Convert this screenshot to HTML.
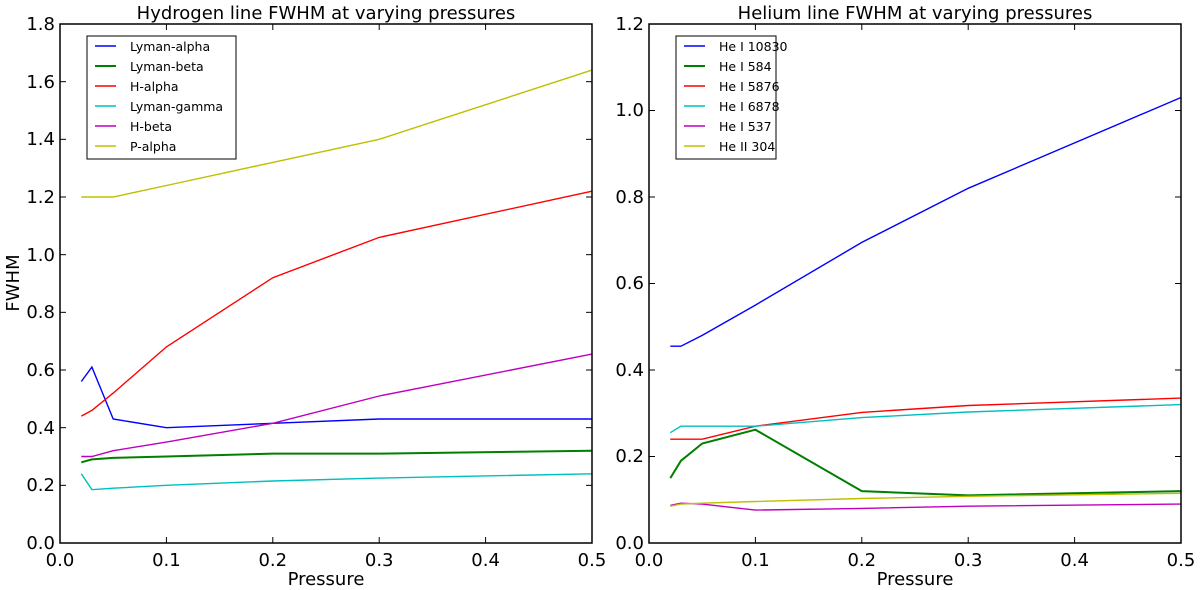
<!DOCTYPE html>
<html><head><style>body{margin:0;background:#fff}svg{display:block;font-family:"DejaVu Sans","Liberation Sans",sans-serif}</style></head>
<body>
<svg id="s" width="1200" height="590" viewBox="0 0 1200 590">
<rect width="1200" height="590" fill="#fff"/>
<g font-size="18" fill="#000">
<text x="326" y="19" text-anchor="middle">Hydrogen line FWHM at varying pressures</text>
<text x="915" y="19" text-anchor="middle">Helium line FWHM at varying pressures</text>
<text x="326" y="585" text-anchor="middle">Pressure</text>
<text x="915" y="585" text-anchor="middle">Pressure</text>
<text transform="translate(19,283) rotate(-90)" text-anchor="middle">FWHM</text>
<g text-anchor="middle">
<text x="60" y="566">0.0</text><text x="166.4" y="566">0.1</text><text x="272.8" y="566">0.2</text><text x="379.2" y="566">0.3</text><text x="485.6" y="566">0.4</text><text x="592" y="566">0.5</text>
<text x="649" y="566">0.0</text><text x="755.4" y="566">0.1</text><text x="861.8" y="566">0.2</text><text x="968.2" y="566">0.3</text><text x="1074.6" y="566">0.4</text><text x="1181" y="566">0.5</text>
</g>
<g text-anchor="end">
<text x="55" y="549">0.0</text><text x="55" y="491">0.2</text><text x="55" y="434">0.4</text><text x="55" y="376">0.6</text><text x="55" y="318">0.8</text><text x="55" y="261">1.0</text><text x="55" y="203">1.2</text><text x="55" y="145">1.4</text><text x="55" y="88">1.6</text><text x="55" y="30">1.8</text>
<text x="644" y="549">0.0</text><text x="644" y="462">0.2</text><text x="644" y="376">0.4</text><text x="644" y="289">0.6</text><text x="644" y="203">0.8</text><text x="644" y="116">1.0</text><text x="644" y="30">1.2</text>
</g>
</g>
<g id="plots"></g>
<rect x="60" y="24" width="532" height="519" fill="none" stroke="#000" stroke-width="1.5"/>
<rect x="649" y="24" width="532" height="519" fill="none" stroke="#000" stroke-width="1.5"/>
<g font-size="12.5" fill="#000">
<rect x="87" y="36" width="149" height="123" fill="#fff" stroke="#000" stroke-width="1"/>
<text x="130" y="51">Lyman-alpha</text><text x="130" y="71">Lyman-beta</text><text x="130" y="91">H-alpha</text><text x="130" y="111">Lyman-gamma</text><text x="130" y="131">H-beta</text><text x="130" y="151">P-alpha</text>
<rect x="676" y="36" width="100" height="123" fill="#fff" stroke="#000" stroke-width="1"/>
<text x="719" y="51">He I 10830</text><text x="719" y="71">He I 584</text><text x="719" y="91">He I 5876</text><text x="719" y="111">He I 6878</text><text x="719" y="131">He I 537</text><text x="719" y="151">He II 304</text>
</g>
</svg>
<script>
var P=[0.02,0.03,0.05,0.1,0.2,0.3,0.5];
var C=['#0000ff','#007f00','#ff0000','#00bfbf','#bf00bf','#bfbf00'];
var W=[1.4,2,1.4,1.4,1.4,1.4];
var L=[[0.56,0.61,0.43,0.40,0.415,0.43,0.43],[0.28,0.29,0.295,0.30,0.31,0.31,0.32],[0.44,0.46,0.52,0.68,0.92,1.06,1.22],[0.24,0.185,0.19,0.20,0.215,0.225,0.24],[0.30,0.30,0.32,0.35,0.415,0.51,0.655],[1.2,1.2,1.2,1.24,1.32,1.40,1.64]];
var R=[[0.455,0.455,0.48,0.55,0.695,0.82,1.03],[0.15,0.19,0.23,0.262,0.12,0.11,0.12],[0.24,0.24,0.24,0.27,0.302,0.318,0.335],[0.255,0.27,0.27,0.27,0.29,0.303,0.32],[0.087,0.092,0.09,0.076,0.08,0.085,0.09],[0.085,0.09,0.092,0.096,0.103,0.108,0.115]];
var g=document.getElementById('plots'),h='',k='';
function ln(x0,ym,data){data.forEach(function(d,i){var pts=P.map(function(p,j){return (x0+p/0.5*532).toFixed(1)+','+(543-d[j]/ym*519).toFixed(1)}).join(' ');h+='<polyline points="'+pts+'" fill="none" stroke="'+C[i]+'" stroke-width="'+W[i]+'"/>';});}
ln(60,1.8,L);ln(649,1.2,R);
for(var i=0;i<=5;i++){[60,649].forEach(function(x0){var x=x0+i*106.4;k+='<line x1="'+x+'" y1="543" x2="'+x+'" y2="537" stroke="#000"/><line x1="'+x+'" y1="24" x2="'+x+'" y2="30" stroke="#000"/>';});}
for(i=0;i<=9;i++){var y=543-i*0.2/1.8*519;k+='<line x1="60" y1="'+y+'" x2="66" y2="'+y+'" stroke="#000"/><line x1="592" y1="'+y+'" x2="586" y2="'+y+'" stroke="#000"/>';}
for(i=0;i<=6;i++){var y=543-i*0.2/1.2*519;k+='<line x1="649" y1="'+y+'" x2="655" y2="'+y+'" stroke="#000"/><line x1="1181" y1="'+y+'" x2="1175" y2="'+y+'" stroke="#000"/>';}
g.innerHTML=h+k;
var s=document.getElementById('s');
var t=document.createElementNS('http://www.w3.org/2000/svg','g');var m='';
for(i=0;i<6;i++){var y=46+i*20;m+='<line x1="95" y1="'+y+'" x2="116" y2="'+y+'" stroke="'+C[i]+'" stroke-width="'+W[i]+'"/><line x1="684" y1="'+y+'" x2="705" y2="'+y+'" stroke="'+C[i]+'" stroke-width="'+W[i]+'"/>';}
t.innerHTML=m;s.appendChild(t);
</script>
</body></html>
